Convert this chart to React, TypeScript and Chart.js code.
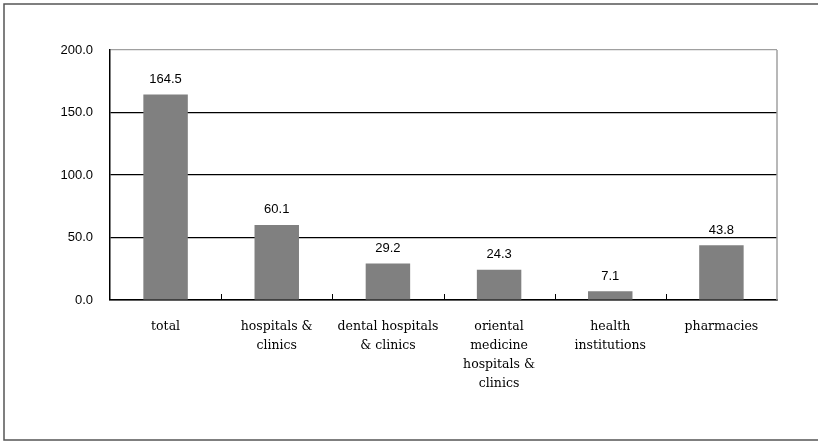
import React, { useEffect, useRef } from "react";
import { Chart, registerables } from "chart.js";

Chart.register(...registerables);

// Category labels, already split into the lines they are printed on
const categories: string[][] = [
  ["total"],
  ["hospitals &", "clinics"],
  ["dental hospitals", "& clinics"],
  ["oriental", "medicine", "hospitals &", "clinics"],
  ["health", "institutions"],
  ["pharmacies"],
];

const values: number[] = [164.5, 60.1, 29.2, 24.3, 7.1, 43.8];

const yTicks: number[] = [0, 50, 100, 150, 200];

const SANS = "'Liberation Sans', Arial, sans-serif";
const SERIF = "'DejaVu Serif', serif";

const decorations = {
  id: "decorations",
  afterDraw(chart: any) {
    const { ctx, chartArea, scales } = chart;
    const x = scales.x;
    ctx.save();

    // right edge of the plot area
    ctx.strokeStyle = "#a0a0a0";
    ctx.lineWidth = 1.5;
    ctx.beginPath();
    ctx.moveTo(chartArea.right, chartArea.top);
    ctx.lineTo(chartArea.right, chartArea.bottom);
    ctx.stroke();

    // short inward tick marks between categories
    ctx.strokeStyle = "#000";
    ctx.lineWidth = 1;
    for (let i = 1; i < categories.length; i++) {
      const px = Math.round((x.getPixelForValue(i - 1) + x.getPixelForValue(i)) / 2) + 0.5;
      ctx.beginPath();
      ctx.moveTo(px, chartArea.bottom);
      ctx.lineTo(px, chartArea.bottom - 6);
      ctx.stroke();
    }

    // value labels above the bars
    const meta = chart.getDatasetMeta(0);
    ctx.fillStyle = "#000";
    ctx.font = `13px ${SANS}`;
    ctx.textAlign = "center";
    ctx.textBaseline = "middle";
    meta.data.forEach((bar: any, i: number) => {
      ctx.fillText(values[i].toFixed(1), bar.x, bar.y - 15);
    });

    // outer frame
    ctx.strokeStyle = "#555";
    ctx.lineWidth = 1.5;
    ctx.strokeRect(4, 4, chart.width + 10, chart.height - 6);
    ctx.restore();
  },
};

export default function App() {
  const ref = useRef<HTMLCanvasElement | null>(null);

  useEffect(() => {
    if (!ref.current) return;
    const chart = new Chart(ref.current, {
      type: "bar",
      data: {
        labels: categories,
        datasets: [
          {
            data: values,
            backgroundColor: "#808080",
            borderWidth: 0,
            barPercentage: 0.4,
            categoryPercentage: 1,
          },
        ],
      },
      options: {
        animation: false,
        responsive: false,
        devicePixelRatio: 1,
        layout: { padding: { top: 50, right: 41, left: 0, bottom: 0 } },
        plugins: { legend: { display: false }, tooltip: { enabled: false } },
        scales: {
          x: {
            grid: { display: true, drawOnChartArea: false, drawTicks: false, color: "rgba(0,0,0,0)" },
            border: { display: true, color: "#000", width: 1.5 },
            ticks: {
              color: "#000",
              font: { family: SERIF, size: 12.5, lineHeight: 1.52 },
              padding: 17,
              maxRotation: 0,
              autoSkip: false,
            },
            afterFit: (s: any) => {
              s.height = 142;
            },
          },
          y: {
            min: 0,
            max: 200,
            afterBuildTicks: (s: any) => {
              s.ticks = yTicks.map((v) => ({ value: v }));
            },
            ticks: {
              color: "#000",
              font: { family: SANS, size: 13 },
              padding: 17,
              callback: (v: any) => Number(v).toFixed(1),
            },
            grid: {
              drawTicks: false,
              lineWidth: 1.2,
              color: (c: any) => (c.tick && c.tick.value === 200 ? "#a0a0a0" : "#000"),
            },
            border: { display: true, color: "#000", width: 1.5 },
            afterFit: (s: any) => {
              s.width = 110;
            },
          },
        },
      },
      plugins: [decorations],
    });
    return () => chart.destroy();
  }, []);

  return (
    <div style={{ position: "fixed", left: 0, top: 0, width: 818, height: 442, background: "#fff" }}>
      <canvas ref={ref} width={818} height={442} style={{ display: "block" }} />
    </div>
  );
}
